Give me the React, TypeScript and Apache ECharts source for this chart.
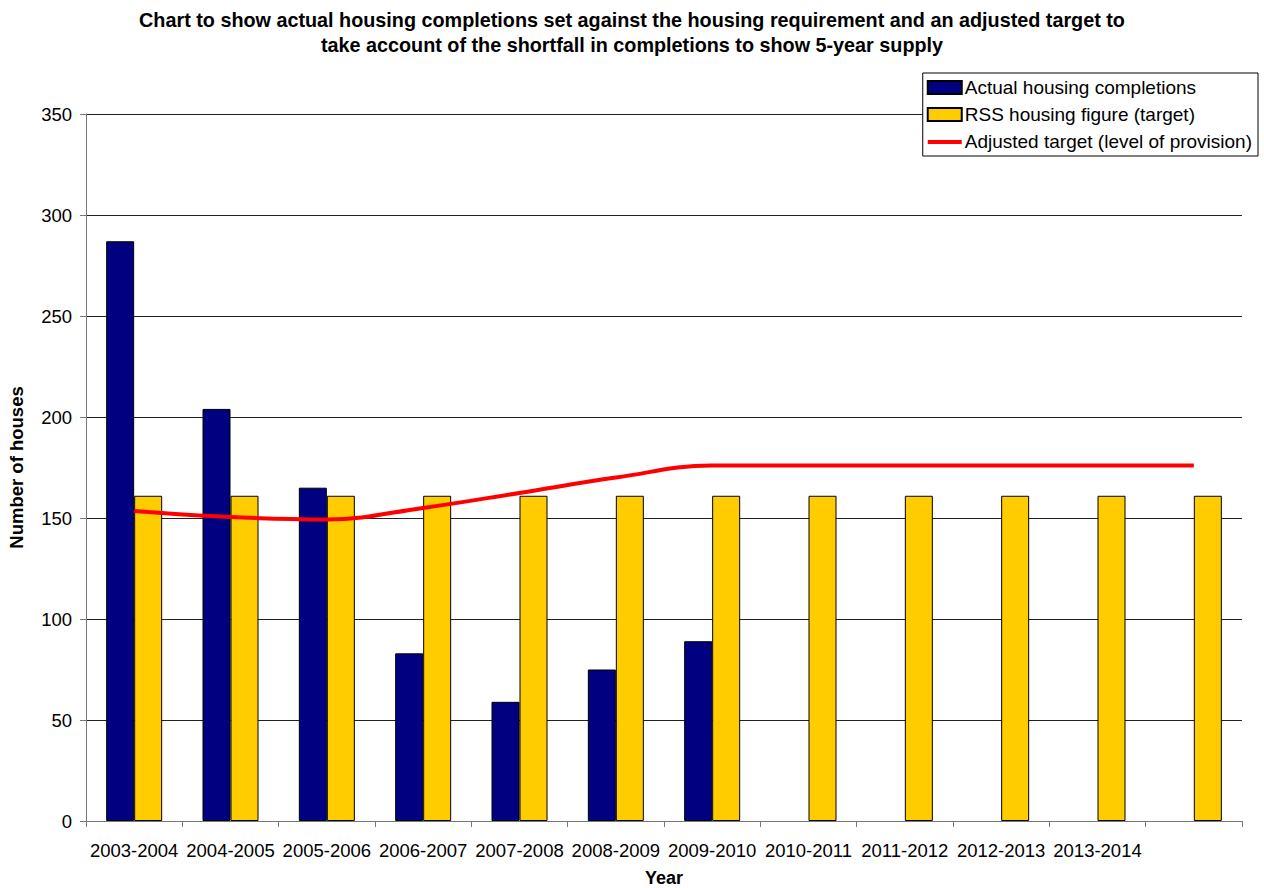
import React, { useEffect, useRef } from "react";
import * as echarts from "echarts";

const categories = [
  "2003-2004", "2004-2005", "2005-2006", "2006-2007", "2007-2008", "2008-2009",
  "2009-2010", "2010-2011", "2011-2012", "2012-2013", "2013-2014", "",
];
const actualCompletions: (number | null)[] = [287, 204, 165, 83, 59, 75, 89, null, null, null, null, null];
const rssTarget = [161, 161, 161, 161, 161, 161, 161, 161, 161, 161, 161, 161];
const adjustedTarget = [153.5, 150.5, 149.3, 155, 162.4, 170, 176, 176, 176, 176, 176, 176];

const FONT = "'Liberation Sans', Arial, sans-serif";

export default function App() {
  const ref = useRef<HTMLDivElement>(null);
  useEffect(() => {
    if (!ref.current) return;
    const chart = echarts.init(ref.current, null, { renderer: "svg" });
    chart.setOption({
      animation: false,
      backgroundColor: "#ffffff",
      textStyle: { fontFamily: FONT },
      title: {
        text: "Chart to show actual housing completions set against the housing requirement and an adjusted target to\ntake account of the shortfall in completions to show 5-year supply",
        left: "center",
        top: 2,
        textStyle: { fontFamily: FONT, fontSize: 19.8, fontWeight: "bold", color: "#000", lineHeight: 25, align: "center" },
      },
      legend: {
        orient: "vertical",
        right: 6,
        top: 73,
        padding: [5, 6, 5, 4],
        itemGap: 8,
        itemWidth: 34,
        itemHeight: 13,
        borderColor: "#000",
        borderWidth: 1,
        backgroundColor: "#fff",
        textStyle: { fontFamily: FONT, fontSize: 19, color: "#000", padding: [0, 0, 0, -2] },
        data: [
          { name: "Actual housing completions", icon: "rect" },
          { name: "RSS housing figure (target)", icon: "rect" },
          {
            name: "Adjusted target (level of provision)",
            icon: "path://M0,5 L34,5 L34,9 L0,9 Z M0,0 L0.01,0 L0.01,0.01 Z M34,13 L33.99,13 L33.99,12.99 Z",
            itemStyle: { borderWidth: 0, color: "#FF0000" },
          },
        ],
      },
      grid: {
        left: 86,
        top: 114,
        width: 1156,
        height: 707,
        containLabel: false,
        outerBoundsMode: "none",
      },
      xAxis: {
        type: "category",
        data: categories,
        boundaryGap: true,
        name: "Year",
        nameLocation: "middle",
        nameGap: 48,
        nameTextStyle: { fontFamily: FONT, fontSize: 18, fontWeight: "bold", color: "#000" },
        axisLine: { lineStyle: { color: "#777", width: 1 } },
        axisTick: { show: true, length: 6, lineStyle: { color: "#777" } },
        axisLabel: { fontFamily: FONT, fontSize: 18.5, color: "#000", margin: 20, interval: 0 },
        splitLine: { show: false },
      },
      yAxis: {
        type: "value",
        min: 0,
        max: 350,
        interval: 50,
        name: "Number of houses",
        nameLocation: "middle",
        nameGap: 60,
        nameRotate: 90,
        nameTextStyle: { fontFamily: FONT, fontSize: 18.5, fontWeight: "bold", color: "#000" },
        axisLine: { show: true, lineStyle: { color: "#777", width: 1 } },
        axisTick: { show: true, length: 6, lineStyle: { color: "#777" } },
        axisLabel: { fontFamily: FONT, fontSize: 18.5, color: "#000", margin: 14 },
        splitLine: { show: true, lineStyle: { color: "#222", width: 1 } },
      },
      series: [
        {
          name: "Actual housing completions",
          type: "bar",
          data: actualCompletions,
          barWidth: 28,
          barGap: "0%",
          itemStyle: { color: "#000080", borderColor: "#000", borderWidth: 1 },
        },
        {
          name: "RSS housing figure (target)",
          type: "bar",
          data: rssTarget,
          barWidth: 28,
          barGap: "0%",
          itemStyle: { color: "#FFCC00", borderColor: "#000", borderWidth: 1 },
        },
        {
          name: "Adjusted target (level of provision)",
          type: "line",
          data: adjustedTarget,
          smooth: 0.4,
          symbol: "none",
          lineStyle: { color: "#FF0000", width: 4 },
          itemStyle: { color: "#FF0000" },
          z: 5,
        },
      ],
    });
    return () => chart.dispose();
  }, []);
  return (
    <div
      ref={ref}
      style={{ position: "absolute", left: 0, top: 0, width: 1264, height: 888 }}
    />
  );
}
